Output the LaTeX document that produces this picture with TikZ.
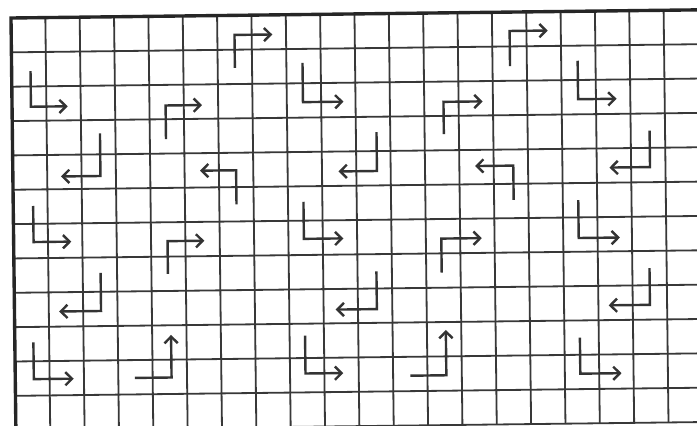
\documentclass[tikz,border=0pt]{standalone}
\usetikzlibrary{arrows.meta}
\begin{document}
\begin{tikzpicture}[x=1cm,y=1cm,
  gridln/.style={draw=black!78,line width=1.5pt},
  rim/.style={draw=black!85,line width=2.8pt},
  turn/.style={draw=black!80,line width=2pt,-{Straight Barb[length=5.5pt,width=11pt]}}]
\useasboundingbox (-0.32,0.524) rectangle (19.97,-11.85);
\fill[white] (-0.32,0.524) rectangle (19.97,-11.85);
\clip (-0.32,0.524) rectangle (19.97,-11.85);
\begin{scope}[rotate=0.68]
\foreach \i in {1,...,20} \draw[gridln] (\i,0)--(\i,-12);
\foreach \j in {1,...,12} \draw[gridln] (0,-\j)--(20,-\j);
\draw[rim] (20,0)--(0,0)--(0,-12);
\draw[turn] (6.5,-1.53)--(6.5,-0.57)--(7.6,-0.57);
\draw[turn] (14.51,-1.57)--(14.51,-0.55)--(15.62,-0.55);
\draw[turn] (0.55,-1.55)--(0.55,-2.59)--(1.62,-2.59);
\draw[turn] (4.47,-3.58)--(4.47,-2.6)--(5.53,-2.6);
\draw[turn] (8.47,-1.41)--(8.47,-2.55)--(9.65,-2.55);
\draw[turn] (12.56,-3.53)--(12.56,-2.59)--(13.7,-2.59);
\draw[turn] (16.48,-1.44)--(16.48,-2.56)--(17.6,-2.56);
\draw[turn] (2.55,-3.39)--(2.55,-4.63)--(1.4,-4.63);
\draw[turn] (6.5,-5.5)--(6.5,-4.51)--(5.45,-4.51);
\draw[turn] (10.6,-3.45)--(10.6,-4.58)--(9.48,-4.58);
\draw[turn] (14.57,-5.47)--(14.57,-4.47)--(13.46,-4.47);
\draw[turn] (18.55,-3.5)--(18.55,-4.56)--(17.37,-4.56);
\draw[turn] (0.58,-5.48)--(0.58,-6.53)--(1.68,-6.53);
\draw[turn] (4.48,-7.5)--(4.48,-6.55)--(5.55,-6.55);
\draw[turn] (8.45,-5.45)--(8.45,-6.53)--(9.6,-6.53);
\draw[turn] (12.45,-7.56)--(12.45,-6.57)--(13.63,-6.57);
\draw[turn] (16.45,-5.5)--(16.45,-6.6)--(17.65,-6.6);
\draw[turn] (2.52,-7.45)--(2.52,-8.56)--(1.3,-8.56);
\draw[turn] (10.55,-7.5)--(10.55,-8.6)--(9.35,-8.6);
\draw[turn] (18.5,-7.5)--(18.5,-8.57)--(17.3,-8.57);
\draw[turn] (0.54,-9.45)--(0.54,-10.52)--(1.7,-10.52);
\draw[turn] (3.48,-10.52)--(4.55,-10.52)--(4.55,-9.28);
\draw[turn] (8.45,-9.35)--(8.45,-10.45)--(9.55,-10.45);
\draw[turn] (11.5,-10.55)--(12.55,-10.55)--(12.55,-9.23);
\draw[turn] (16.45,-9.5)--(16.45,-10.55)--(17.65,-10.55);
\end{scope}
\end{tikzpicture}
\end{document}
